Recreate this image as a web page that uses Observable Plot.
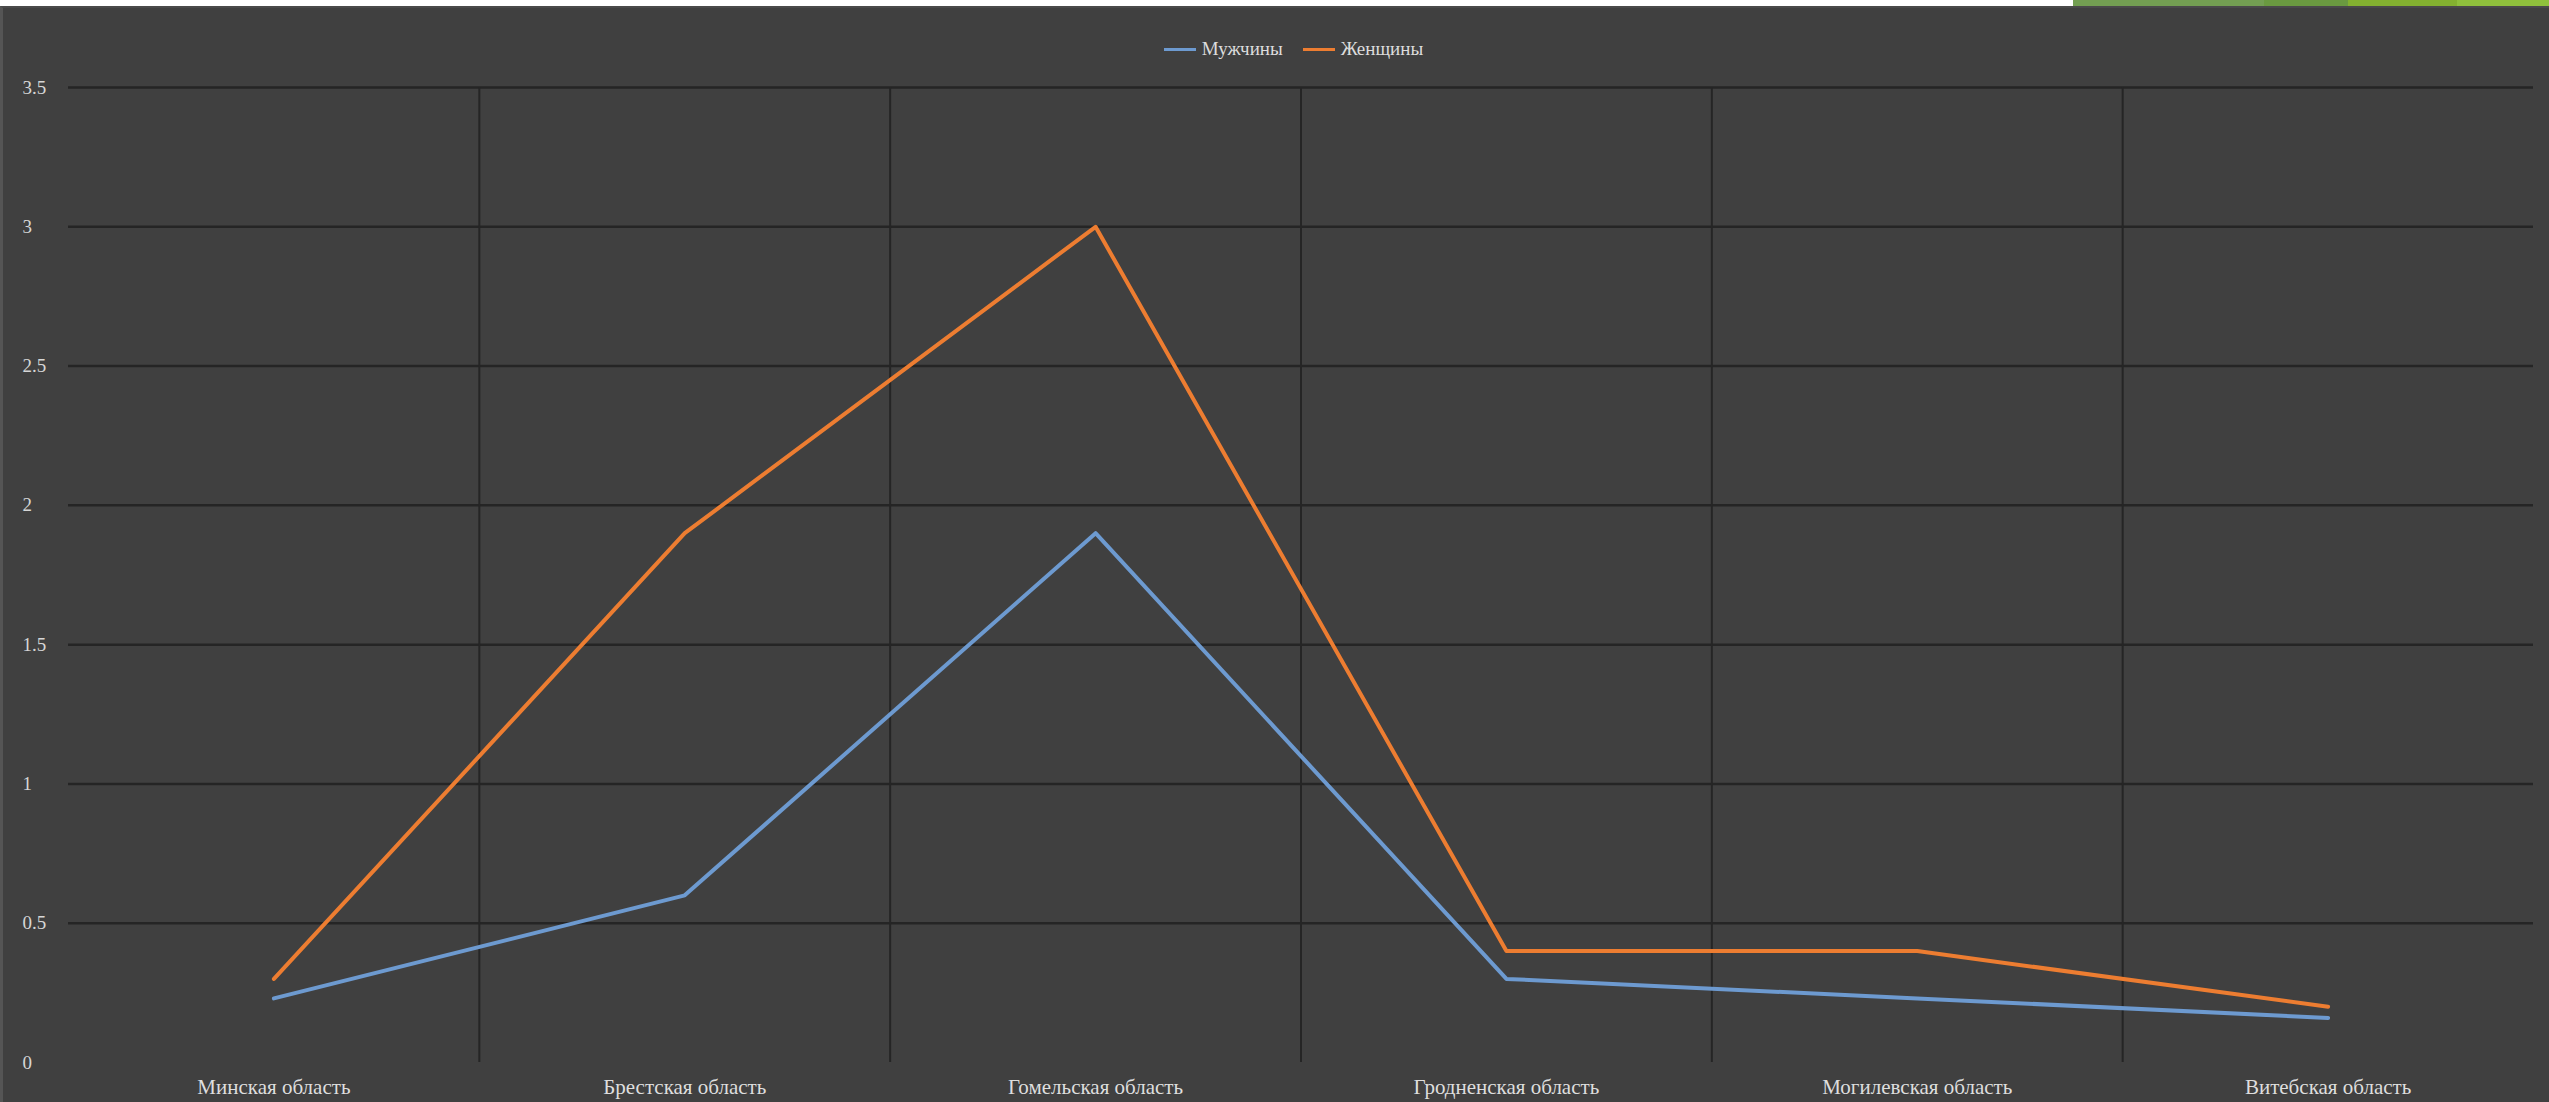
<!DOCTYPE html>
<html>
<head>
<meta charset="utf-8">
<script src="https://cdn.jsdelivr.net/npm/d3@7"></script>
<script src="https://cdn.jsdelivr.net/npm/@observablehq/plot@0.6"></script>
<style>
  html, body { margin: 0; padding: 0; background: #404040; width: 2549px; height: 1102px; overflow: hidden; }
  #top { position: absolute; left: 0; top: 0; width: 2549px; height: 6px; background: #ffffff; }
  .g { position: absolute; top: 0; height: 6px; }
  #frame { position: absolute; left: 0; top: 6px; width: 2549px; height: 1096px; background: #404040; border-top: 2px solid #4a4a4a; border-left: 3px solid #555; box-sizing: border-box; }
  #legend { position: absolute; left: 0; top: 6px; width: 2549px; height: 54px; display: flex; justify-content: center; align-items: center; padding-left: 38px; box-sizing: border-box; font-family: "Liberation Serif", serif; font-size: 19px; color: #dcdcdc; padding-top: 32px; }
  .item { display: flex; align-items: center; margin: 0 10px; }
  .sw { width: 32px; height: 3px; margin-right: 6px; }
  #chart { position: absolute; left: 0; top: 60px; }
</style>
</head>
<body>
<div id="frame"></div>
<div id="top">
  <div class="g" style="left:2073px;width:191px;background:#739f52"></div>
  <div class="g" style="left:2264px;width:84px;background:#6a9a40"></div>
  <div class="g" style="left:2348px;width:109px;background:#83b130"></div>
  <div class="g" style="left:2457px;width:92px;background:#8fc03c"></div>
</div>
<div id="legend"></div>
<div id="chart"></div>
<script>
const categories = ["Минская область", "Брестская область", "Гомельская область", "Гродненская область", "Могилевская область", "Витебская область"];
const seriesNames = ["Мужчины", "Женщины"];
const men = [0.23, 0.6, 1.9, 0.3, 0.23, 0.16];
const women = [0.3, 1.9, 3.0, 0.4, 0.4, 0.2];
const yTicks = [0, 0.5, 1, 1.5, 2, 2.5, 3, 3.5];
const colors = ["#6d9ad0", "#ed7d31"];

const series = [men, women];
const rows = series.flatMap((vals, s) => vals.map((v, i) => ({i, v, s: seriesNames[s]})));
const idx = categories.map((_, i) => i);
const boundaries = idx.slice(0, -1).map(i => i + 0.5);

// legend
const legend = document.getElementById("legend");
seriesNames.forEach((name, k) => {
  const it = document.createElement("div");
  it.className = "item";
  it.innerHTML = `<span class="sw" style="background:${colors[k]}"></span><span>${name}</span>`;
  legend.appendChild(it);
});

const plot = Plot.plot({
  width: 2549,
  height: 1042,
  marginLeft: 68,
  marginRight: 16,
  marginTop: 27,
  marginBottom: 40,
  style: { background: "transparent", color: "#d0d0d0", fontFamily: "Liberation Serif, serif" },
  x: { type: "linear", domain: [-0.5, categories.length - 0.5] },
  y: { domain: [0, 3.5] },
  marks: [
    Plot.ruleY(yTicks.filter(t => t > 0), { stroke: "#252525", strokeWidth: 2.5 }),
    Plot.ruleX(boundaries, { y1: 0, y2: 3.5, stroke: "#252525", strokeWidth: 2 }),
    Plot.axisY({ ticks: yTicks, tickSize: 0, tickPadding: 46, textAnchor: "start", tickFormat: d => String(d), fontSize: 19, fill: "#d6d6d6", label: null }),
    Plot.axisX({ ticks: idx, tickSize: 0, tickPadding: 17, tickFormat: i => categories[i], fontSize: 21, fill: "#dedede", label: null }),
    Plot.line(rows.filter(d => d.s === seriesNames[0]), { x: "i", y: "v", stroke: colors[0], strokeWidth: 4 }),
    Plot.line(rows.filter(d => d.s === seriesNames[1]), { x: "i", y: "v", stroke: colors[1], strokeWidth: 4 })
  ]
});
document.getElementById("chart").appendChild(plot);
</script>
</body>
</html>
